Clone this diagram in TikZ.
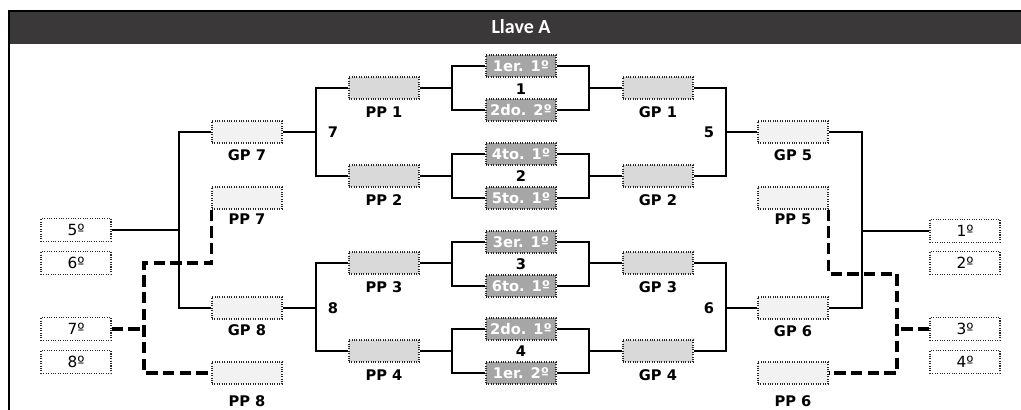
\documentclass[tikz,border=0pt]{standalone}
\usepackage{fontspec}
\setmainfont{DejaVu Sans}
\newfontfamily\titlefont{Carlito}
\usetikzlibrary{positioning}
\definecolor{hdr}{HTML}{3A3838}

\begin{document}
\begin{tikzpicture}[x=0.75pt,y=-0.75pt,
	box/.style={draw=black!85,densely dotted,line width=0.8pt,minimum width=52.5pt,minimum height=16.5pt,inner sep=0pt},
	pbox/.style={box,fill=black!5},
	qbox/.style={box,fill=black!15},
	sbox/.style={box,fill=black!35,text=white,font=\bfseries\fontsize{11}{12}\selectfont},
	place/.style={box,fill=white,minimum height=17pt,font=\fontsize{11.5}{13}\selectfont},
	lbl/.style={inner sep=0pt,font=\bfseries\fontsize{11}{12}\selectfont},
	link/.style={line width=1.6pt},
	elim/.style={line width=2.5pt,dash pattern=on 8.5pt off 4pt}]
\useasboundingbox (0,0) rectangle (1021,410);
\clip (0,0) rectangle (1021,410);
\fill[hdr] (9,11) rectangle (1021,44);
\draw[line width=2pt] (9,410) -- (9,11) -- (1021,11);
\node[text=white,font=\titlefont\bfseries\fontsize{15}{18}\selectfont] (title) at (521,27) {Llave A};

% places
\node[place] (fifth) at (76,230) {5º};
\node[place] (sixth) at (76,263) {6º};
\node[place] (seventh) at (76,329) {7º};
\node[place] (eighth) at (76,362) {8º};
\node[place] (first) at (965,231) {1º};
\node[place] (second) at (965,263) {2º};
\node[place] (third) at (965,329) {3º};
\node[place] (fourth) at (965,362) {4º};

% outer boxes
\node[pbox] (gpseven) at (247,132) {};
\node[pbox] (ppseven) at (247,198) {};
\node[pbox] (gpeight) at (247,308) {};
\node[pbox] (ppeight) at (247,373) {};
\node[pbox] (gpfive) at (793,132) {};
\node[pbox] (ppfive) at (793,198) {};
\node[pbox] (gpsix) at (793,308) {};
\node[pbox] (ppsix) at (793,373) {};
\node[lbl,below=4.5pt of gpseven] (gpsevenl) {GP 7};
\node[lbl,below=3pt of ppseven] (ppsevenl) {PP 7};
\node[lbl,below=3.5pt of gpeight] (gpeightl) {GP 8};
\node[lbl,below=8pt of ppeight] (ppeightl) {PP 8};
\node[lbl,below=4.5pt of gpfive] (gpfivel) {GP 5};
\node[lbl,below=3pt of ppfive] (ppfivel) {PP 5};
\node[lbl,below=4pt of gpsix] (gpsixl) {GP 6};
\node[lbl,below=8pt of ppsix] (ppsixl) {PP 6};

% quarter boxes
\node[qbox] (ppone) at (384,88) {};
\node[qbox] (pptwo) at (384,176) {};
\node[qbox] (ppthree) at (384,263) {};
\node[qbox] (ppfour) at (384,351) {};
\node[qbox] (gpone) at (658,88) {};
\node[qbox] (gptwo) at (658,176) {};
\node[qbox] (gpthree) at (658,263) {};
\node[qbox] (gpfour) at (658,351) {};
\foreach \n/\t in {ppone/PP 1,pptwo/PP 2,ppthree/PP 3,ppfour/PP 4,gpone/GP 1,gptwo/GP 2,gpthree/GP 3,gpfour/GP 4}
	\node[lbl,below=5pt of \n] (\n l) {\t};

% seeds
\node[sbox] (sonea) at (521,66) {1er. 1º};
\node[sbox] (soneb) at (521,110) {2do. 2º};
\node[sbox] (stwoa) at (521,154) {4to. 1º};
\node[sbox] (stwob) at (521,198) {5to. 1º};
\node[sbox] (sthreea) at (521,242) {3er. 1º};
\node[sbox] (sthreeb) at (521,286) {6to. 1º};
\node[sbox] (sfoura) at (521,329) {2do. 1º};
\node[sbox] (sfourb) at (521,373) {1er. 2º};
\node[lbl] (mone) at (521,89) {1};
\node[lbl] (mtwo) at (521,176) {2};
\node[lbl] (mthree) at (521,264) {3};
\node[lbl] (mfour) at (521,351) {4};
\node[lbl] (mseven) at (333,132) {7};
\node[lbl] (meight) at (333,308) {8};
\node[lbl] (mfive) at (709,132) {5};
\node[lbl] (msix) at (709,308) {6};

% junctions
\coordinate (jone) at (452,88);
\coordinate (kone) at (589,88);
\coordinate (jtwo) at (452,176);
\coordinate (ktwo) at (589,176);
\coordinate (jthree) at (452,263);
\coordinate (kthree) at (589,263);
\coordinate (jfour) at (452,351);
\coordinate (kfour) at (589,351);
\coordinate (qseven) at (316,132);
\coordinate (qeight) at (316,308);
\coordinate (qfive) at (726,132);
\coordinate (qsix) at (726,308);
\coordinate (jl) at (179,230);
\coordinate (jr) at (862,231);
\coordinate (dl) at (144,263);
\coordinate (dr) at (897,274);

\draw[link] (ppone.east) -- (jone) (sonea.west) -| (jone) |- (soneb.west);
\draw[link] (gpone.west) -- (kone) (sonea.east) -| (kone) |- (soneb.east);
\draw[link] (pptwo.east) -- (jtwo) (stwoa.west) -| (jtwo) |- (stwob.west);
\draw[link] (gptwo.west) -- (ktwo) (stwoa.east) -| (ktwo) |- (stwob.east);
\draw[link] (ppthree.east) -- (jthree) (sthreea.west) -| (jthree) |- (sthreeb.west);
\draw[link] (gpthree.west) -- (kthree) (sthreea.east) -| (kthree) |- (sthreeb.east);
\draw[link] (ppfour.east) -- (jfour) (sfoura.west) -| (jfour) |- (sfourb.west);
\draw[link] (gpfour.west) -- (kfour) (sfoura.east) -| (kfour) |- (sfourb.east);
\draw[link] (gpseven.east) -- (qseven) (ppone.west) -| (qseven) |- (pptwo.west);
\draw[link] (gpeight.east) -- (qeight) (ppthree.west) -| (qeight) |- (ppfour.west);
\draw[link] (gpfive.west) -- (qfive) (gpone.east) -| (qfive) |- (gptwo.east);
\draw[link] (gpsix.west) -- (qsix) (gpthree.east) -| (qsix) |- (gpfour.east);
\draw[link] (fifth.east) -- (jl) (gpseven.west) -| (jl) |- (gpeight.west);
\draw[link] (first.west) -- (jr) (gpfive.east) -| (jr) |- (gpsix.east);
\draw[elim] (ppseven.south west) |- (dl) |- (ppeight.west);
\draw[elim] (seventh.east) -- (seventh.east -| dl);
\draw[elim] (ppfive.south east) |- (dr) |- (ppsix.east);
\draw[elim] (third.west) -- (third.west -| dr);
\end{tikzpicture}
\end{document}
